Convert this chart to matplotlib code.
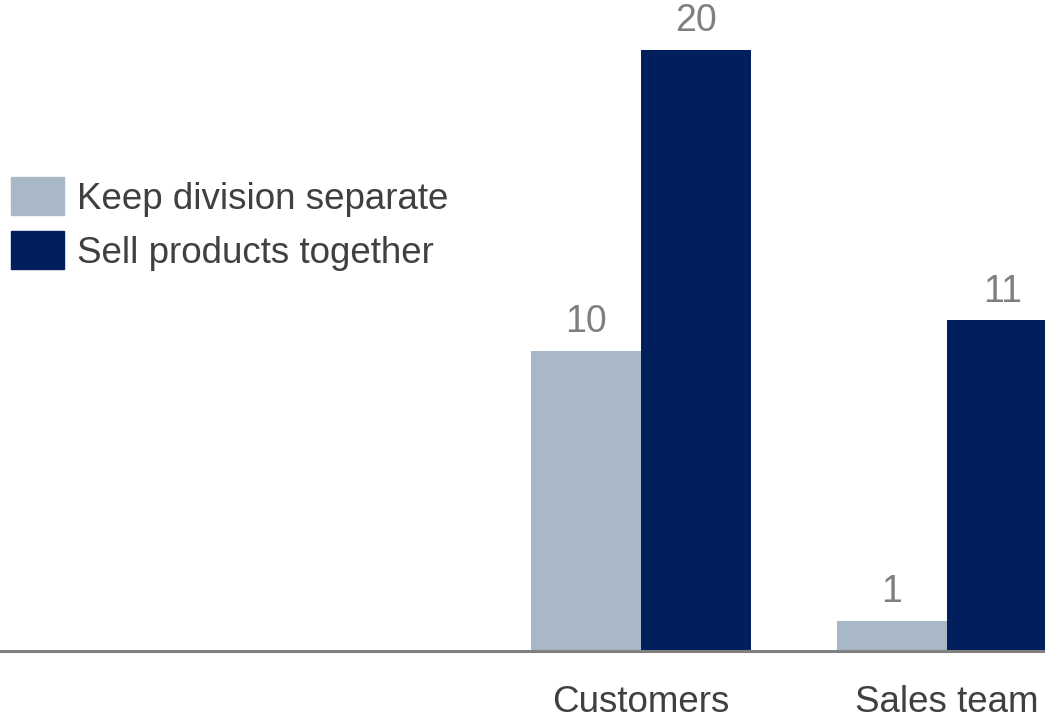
import matplotlib.pyplot as plt
from matplotlib.patches import Patch

# data
categories = ["Customers", "Sales team"]
keep_separate = [10, 1]
sell_together = [20, 11]
series_names = ["Keep division separate", "Sell products together"]

light = "#a8b8c7"
dark = "#001f5c"

plt.rcParams['font.family'] = ['Liberation Sans', 'DejaVu Sans']

fig = plt.figure(figsize=(10.45, 7.22), dpi=100)
ax = fig.add_axes([0, 71/722, 1, 651/722])

w = 0.36
x = list(range(len(categories)))
b1 = ax.bar([i - w/2 for i in x], keep_separate, w, color=light)
b2 = ax.bar([i + w/2 for i in x], sell_together, w, color=dark)

for bars, vals in ((b1, keep_separate), (b2, sell_together)):
    for r, v in zip(bars, vals):
        ax.text(r.get_x() + r.get_width()/2, v + 0.35, str(v),
                ha='center', va='bottom', fontsize=27, color='#7f7f7f')

for i, c in zip(x, categories):
    ax.text(i, -1.12, c, ha='center', va='top', fontsize=26.5, color='#404040',
            clip_on=False)

ax.axhline(0, color='#808080', lw=2.2, zorder=3, clip_on=False)

ax.set_xlim(-2.095, 1.32)
ax.set_ylim(0, 651/30.05)
ax.axis('off')

handles = [Patch(color=light), Patch(color=dark)]
ax.legend(handles, series_names, loc='upper left', bbox_to_anchor=(0.0, 1 - 166/651),
          frameon=False, fontsize=26.5, labelcolor='#404040',
          handlelength=1.44, handleheight=1.22, handletextpad=0.35,
          labelspacing=0.4, borderaxespad=0, borderpad=0.3)

fig.savefig("out.png", dpi=100)
